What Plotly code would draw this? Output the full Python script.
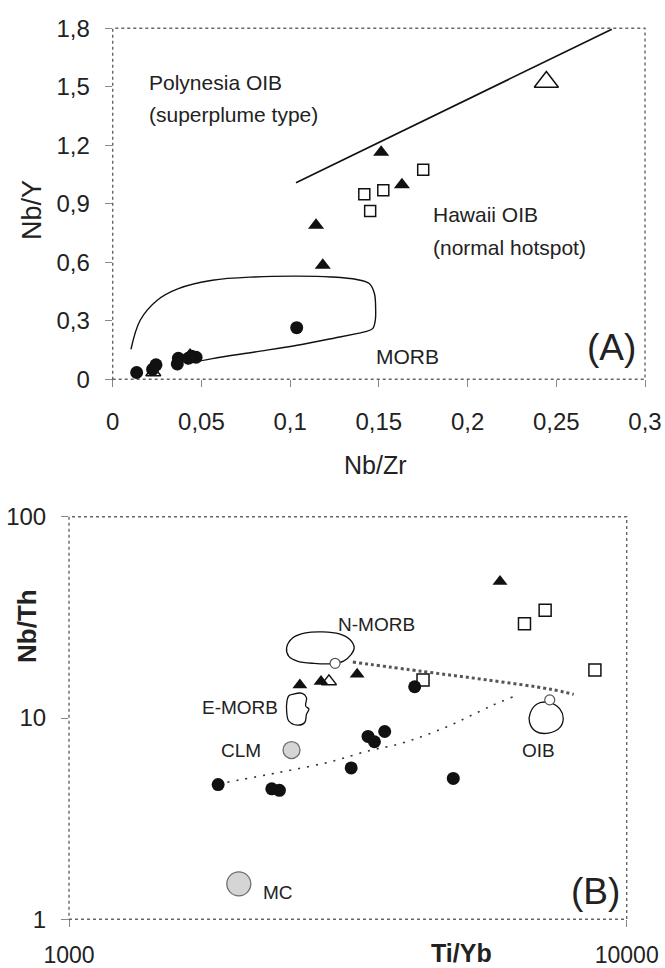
import plotly.graph_objects as go

W, H = 665, 968
FONT = "Liberation Sans, Arial, sans-serif"
TXT = "#222222"

# ---------------- Panel A data (Nb/Zr vs Nb/Y) ----------------
A_circ_x = [0.0135, 0.0225, 0.0244, 0.0364, 0.0370, 0.0426, 0.0445, 0.0470, 0.1037]
A_circ_y = [0.035, 0.051, 0.074, 0.079, 0.108, 0.108, 0.118, 0.113, 0.265]
A_tri_x = [0.0436, 0.1146, 0.1184, 0.1513, 0.1630]
A_tri_y = [0.125, 0.790, 0.585, 1.165, 0.998]
A_sq_x = [0.1418, 0.1451, 0.1525, 0.1750]
A_sq_y = [0.949, 0.863, 0.969, 1.075]
A_otri_x = [0.0229]
A_otri_y = [0.035]
A_big_otri_x = [0.2444]
A_big_otri_y = [1.525]
A_poly_line_x = [0.1033, 0.2813]
A_poly_line_y = [1.008, 1.795]
A_morb_x = [0.0103, 0.0155, 0.0251, 0.037, 0.0562, 0.080, 0.104, 0.123, 0.1375, 0.1446,
            0.1475, 0.1482, 0.148, 0.1465, 0.142, 0.1375, 0.128, 0.104, 0.080, 0.0562, 0.0418]
A_morb_y = [0.154, 0.303, 0.4055, 0.465, 0.508, 0.525, 0.529, 0.525, 0.512, 0.491,
            0.44, 0.354, 0.303, 0.26, 0.243, 0.234, 0.217, 0.1745, 0.140, 0.106, 0.080]
A_xticks = [0, 0.05, 0.1, 0.15, 0.2, 0.25, 0.3]
A_xticklabels = ["0", "0,05", "0,1", "0,15", "0,2", "0,25", "0,3"]
A_yticks = [0, 0.3, 0.6, 0.9, 1.2, 1.5, 1.8]
A_yticklabels = ["0", "0,3", "0,6", "0,9", "1,2", "1,5", "1,8"]

# ---------------- Panel B data (Ti/Yb vs Nb/Th) ----------------
B_circ_x = [1851, 2310, 2384, 3206, 3437, 3529, 3682, 4167, 4887]
B_circ_y = [4.67, 4.45, 4.37, 5.65, 8.10, 7.62, 8.57, 14.3, 5.01]
B_tri_x = [2594, 2831, 3286, 5927]
B_tri_y = [14.6, 15.2, 16.5, 47.7]
B_otri_x = [2925]
B_otri_y = [15.2]
B_sq_x = [4313, 6557, 7141, 8770]
B_sq_y = [15.45, 29.4, 34.3, 17.3]
B_ocirc_x = [3000, 7278]
B_ocirc_y = [18.7, 12.3]
B_ref_x = [2506, 2016]
B_ref_y = [6.93, 1.50]
B_ref_size = [17, 24]
B_nmorb_x = [2456, 2520, 2656, 2848, 3052, 3189, 3246, 3207, 3107, 2949, 2750, 2566, 2477, 2456]
B_nmorb_y = [22.33, 25.02, 26.48, 26.79, 26.18, 24.55, 22.33, 20.69, 19.18, 18.6, 18.67, 19.18, 20.30, 22.33]
B_emorb_x = [2520, 2619, 2666, 2656, 2693, 2666, 2647, 2566, 2477, 2456, 2460, 2477, 2520]
B_emorb_y = [13.12, 13.27, 12.63, 11.49, 11.06, 10.45, 9.50, 9.22, 9.68, 10.85, 12.16, 12.87, 13.12]
B_oib_x = [6932, 7305, 7592, 7695, 7592, 7241, 6871, 6697, 6720, 6932]
B_oib_y = [11.80, 11.89, 11.06, 9.98, 8.98, 8.41, 8.58, 9.50, 10.65, 11.80]
B_upper_x = [3228, 4329, 5623, 7305, 8035]
B_upper_y = [18.96, 17.0, 15.45, 13.9, 13.1]
B_lower_x = [1923, 2392, 2949, 3451, 3898, 4329, 4807, 5244, 5722, 6244]
B_lower_y = [4.80, 5.38, 6.07, 6.88, 7.42, 8.16, 9.15, 10.25, 11.49, 12.72]
B_xticks = [1000, 10000]
B_xticklabels = ["1000", "10000"]
B_yticks = [1, 10, 100]
B_yticklabels = ["1", "10", "100"]

fig = go.Figure()


def add(x, y, xa, ya, **kw):
    fig.add_trace(go.Scatter(x=x, y=y, xaxis=xa, yaxis=ya, showlegend=False,
                             hoverinfo="skip", **kw))


# Panel A
add(A_morb_x, A_morb_y, "x", "y", mode="lines", line=dict(color="#111", width=1.4, shape="spline"))
add(A_poly_line_x, A_poly_line_y, "x", "y", mode="lines", line=dict(color="#111", width=1.6))
add(A_otri_x, A_otri_y, "x", "y", mode="markers",
    marker=dict(symbol="triangle-up-open", size=13, color="#111", line=dict(width=1.5)))
add(A_circ_x, A_circ_y, "x", "y", mode="markers",
    marker=dict(symbol="circle", size=13, color="#111"))
add(A_tri_x, A_tri_y, "x", "y", mode="markers",
    marker=dict(symbol="triangle-up", size=14, color="#111"))
add(A_sq_x, A_sq_y, "x", "y", mode="markers",
    marker=dict(symbol="square-open", size=11, color="#111", line=dict(width=1.5)))
add(A_big_otri_x, A_big_otri_y, "x", "y", mode="markers",
    marker=dict(symbol="triangle-up-open", size=21, color="#111", line=dict(width=1.5)))

# Panel B
for fx, fy in [(B_nmorb_x, B_nmorb_y), (B_emorb_x, B_emorb_y), (B_oib_x, B_oib_y)]:
    add(fx, fy, "x2", "y2", mode="lines", line=dict(color="#111", width=1.3, shape="spline"))
add(B_upper_x, B_upper_y, "x2", "y2", mode="lines",
    line=dict(color="#555", width=3, dash="dot", shape="spline"))
add(B_lower_x, B_lower_y, "x2", "y2", mode="lines",
    line=dict(color="#333", width=1.6, dash="2px,7px", shape="spline"))
add(B_ocirc_x, B_ocirc_y, "x2", "y2", mode="markers",
    marker=dict(symbol="circle", size=10, color="white", line=dict(color="#555", width=1.2)))
add(B_ref_x, B_ref_y, "x2", "y2", mode="markers",
    marker=dict(symbol="circle", size=B_ref_size, color="#c4c4c4", line=dict(color="#333", width=1.3)))
add(B_circ_x, B_circ_y, "x2", "y2", mode="markers",
    marker=dict(symbol="circle", size=13, color="#111"))
add(B_tri_x, B_tri_y, "x2", "y2", mode="markers",
    marker=dict(symbol="triangle-up", size=13, color="#111"))
add(B_otri_x, B_otri_y, "x2", "y2", mode="markers",
    marker=dict(symbol="triangle-up-open", size=13, color="#111", line=dict(width=1.5)))
add(B_sq_x, B_sq_y, "x2", "y2", mode="markers",
    marker=dict(symbol="square-open", size=12, color="#111", line=dict(width=1.5)))


def px(x):
    return x / W


def py(y):
    return 1 - y / H


axis_common = dict(showgrid=False, zeroline=False, showline=False, ticks="outside",
                   ticklen=7, tickcolor="#888", tickwidth=1, automargin=False)
tf24 = dict(family=FONT, size=24, color=TXT)

fig.update_layout(
    template="none",
    width=W, height=H, margin=dict(l=0, r=0, t=0, b=0, autoexpand=False),
    paper_bgcolor="white", plot_bgcolor="white",
    xaxis=dict(domain=[px(112.7), px(645)], range=[0, 0.3], tickvals=A_xticks,
               ticktext=A_xticklabels, anchor="y", ticklabelstandoff=14, tickfont=tf24,
               **axis_common),
    yaxis=dict(domain=[py(379.3), py(28.3)], range=[0, 1.8], tickvals=A_yticks,
               ticktext=A_yticklabels, anchor="x", ticklabelstandoff=10, tickfont=tf24,
               **axis_common),
    xaxis2=dict(domain=[px(69), px(626.7)], type="log", range=[3, 4], tickvals=B_xticks,
                ticktext=B_xticklabels, anchor="y2", ticklabelstandoff=8,
                tickfont=dict(family=FONT, size=23, color=TXT), **axis_common),
    yaxis2=dict(domain=[py(919.3), py(516.7)], type="log", range=[0, 2], tickvals=B_yticks,
                ticktext=B_yticklabels, anchor="x2", ticklabelstandoff=10, tickfont=tf24,
                **axis_common),
)

# dotted frames
for xr, yr in [("x domain", "y domain"), ("x2 domain", "y2 domain")]:
    fig.add_shape(type="rect", xref=xr, yref=yr, x0=0, x1=1, y0=0, y1=1,
                  line=dict(color="#666", width=1.4, dash="dot"), layer="below")


def note(text, x, y, size, xanchor="center", bold=False, angle=0):
    if bold:
        text = "<b>" + text + "</b>"
    fig.add_annotation(text=text, x=px(x), y=py(y), xref="paper", yref="paper",
                       showarrow=False, xanchor=xanchor, yanchor="middle",
                       textangle=angle, font=dict(family=FONT, size=size, color=TXT))


note("Polynesia OIB", 146.7, 82, 21, xanchor="left")
note("(superplume type)", 146.7, 115, 21, xanchor="left")
note("Hawaii OIB", 430.8, 215, 21, xanchor="left")
note("(normal hotspot)", 430.8, 247, 21, xanchor="left")
note("MORB", 407.5, 356.7, 21)
note("(A)", 611, 347, 37)
note("Nb/Y", 32, 210, 27, angle=-90)
note("Nb/Zr", 375, 465, 25)

# Panel B annotations
note("N-MORB", 376, 624.6, 19)
note("E-MORB", 240, 707.6, 19)
note("CLM", 241.4, 750, 19)
note("MC", 278, 892.5, 19)
note("OIB", 538.5, 750, 19)
note("(B)", 595, 891.7, 37)
note("Nb/Th", 27, 626, 26, bold=True, angle=-90)
note("Ti/Yb", 461.7, 953, 25, bold=True)

fig.write_html("out.html")
